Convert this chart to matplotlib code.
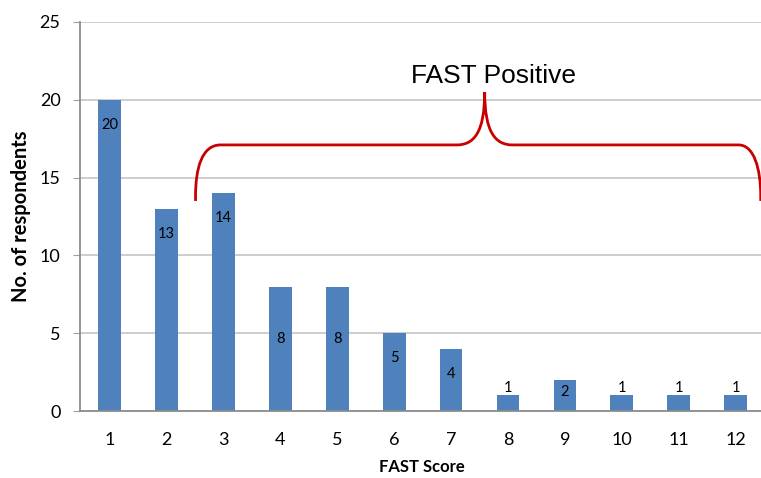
import matplotlib.pyplot as plt
from matplotlib.path import Path
from matplotlib.patches import PathPatch

scores = [1, 2, 3, 4, 5, 6, 7, 8, 9, 10, 11, 12]
respondents = [20, 13, 14, 8, 8, 5, 4, 1, 2, 1, 1, 1]

# brace spans the positive scores (3 and above)
brace_left, brace_right, brace_peak = 2.51, 12.44, 7.59
brace_low, brace_mid, brace_top = 13.5, 17.1, 20.5

plt.rcParams['font.family'] = ['Lato', 'DejaVu Sans']

fig = plt.figure(figsize=(7.61, 4.78), dpi=100)
ax = fig.add_axes([80 / 761, 67 / 478, 683 / 761, 389 / 478])

ax.bar(scores, respondents, width=0.4, color='#4F81BD', zorder=2)

for x, v in zip(scores, respondents):
    if v == 1:
        y, va = v + 0.05, 'bottom'
    elif v == 2:
        y, va = v - 0.75, 'center'
    elif v == 8:
        y, va = v - 3.4, 'center'
    else:
        y, va = v - 1.6, 'center'
    ax.text(x, y, str(v), ha='center', va=va, fontsize=10.5, color='black', zorder=3)

ax.set_xlim(0.48, 12.48)
ax.set_ylim(0, 25)
ax.set_yticks([0, 5, 10, 15, 20, 25])
ax.set_xticks(scores)
ax.tick_params(axis='both', labelsize=13, colors='black')
ax.tick_params(axis='x', length=0, pad=15)
ax.tick_params(axis='y', length=5, color='#A0A0A0', pad=9)
ax.grid(axis='y', color='#C0C0C0', linewidth=1.1, zorder=0)
ax.set_axisbelow(True)
for side in ['top', 'right']:
    ax.spines[side].set_visible(False)
for side in ['left', 'bottom']:
    ax.spines[side].set_color('#8C8C8C')
    ax.spines[side].set_linewidth(1.3)

ax.set_xlabel('FAST Score', fontsize=12, fontweight='bold', labelpad=8)
ax.set_ylabel('No. of respondents', fontsize=14.5, fontweight='bold', labelpad=6)

# curly brace over the positive scores
verts = [
    (brace_left, brace_low), (brace_left, brace_low + 0.3),
    (brace_left, 15.6), (2.62, brace_mid), (2.95, brace_mid),
    (7.10, brace_mid),
    (7.40, brace_mid), (brace_peak, 17.9), (brace_peak, brace_top),
    (brace_peak, 17.9), (7.78, brace_mid), (8.08, brace_mid),
    (12.05, brace_mid),
    (12.32, brace_mid), (brace_right, 15.6), (brace_right, brace_low + 0.3),
    (brace_right, brace_low),
]
codes = [Path.MOVETO, Path.LINETO,
         Path.CURVE4, Path.CURVE4, Path.CURVE4,
         Path.LINETO,
         Path.CURVE4, Path.CURVE4, Path.CURVE4,
         Path.CURVE4, Path.CURVE4, Path.CURVE4,
         Path.LINETO,
         Path.CURVE4, Path.CURVE4, Path.CURVE4,
         Path.LINETO]
ax.add_patch(PathPatch(Path(verts, codes), facecolor='none', edgecolor='#C80000',
                       linewidth=2.0, clip_on=False, zorder=4))
ax.text(7.75, 21.55, 'FAST Positive', ha='center', va='center', fontsize=19,
        family=['Liberation Sans', 'DejaVu Sans'], zorder=4)

fig.savefig('out.png', dpi=100)
